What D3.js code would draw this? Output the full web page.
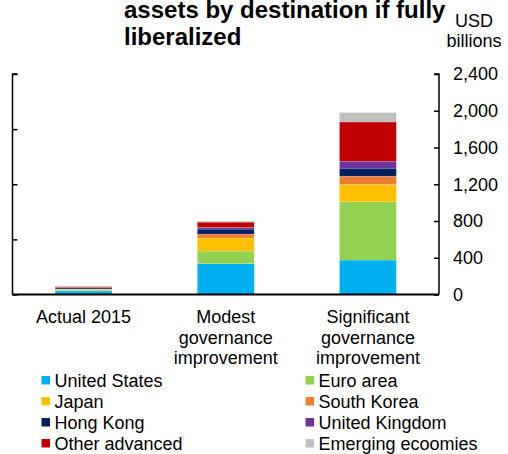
<!DOCTYPE html>
<html><head><meta charset="utf-8">
<script src="https://cdn.jsdelivr.net/npm/d3@7"></script>
<style>
html,body{margin:0;padding:0;background:#fff;}
svg{display:block;font-family:"Liberation Sans",Arial,sans-serif;}
</style></head>
<body><svg id="c" width="508" height="454"></svg>
<script>
const categories = ["Actual 2015", "Modest governance improvement", "Significant governance improvement"];
const categoryLines = [["Actual 2015"], ["Modest", "governance", "improvement"], ["Significant", "governance", "improvement"]];
const seriesNames = ["United States", "Euro area", "Japan", "South Korea", "Hong Kong", "United Kingdom", "Other advanced", "Emerging ecoomies"];
const seriesColors = ["#00B0F0", "#92D050", "#FFC000", "#ED7D31", "#002060", "#7030A0", "#C00000", "#BFBFBF"];
const unitedStates = [38, 335, 375];
const euroArea = [10, 138, 634];
const japan = [8, 141, 189];
const southKorea = [4, 44, 90];
const hongKong = [12, 54, 87];
const unitedKingdom = [4, 18, 76];
const otherAdvanced = [10, 58, 427];
const emerging = [6, 11, 102];
const yTicks = [0, 400, 800, 1200, 1600, 2000, 2400];
const titleLines = ["assets by destination if fully", "liberalized"];
const unitLines = ["USD", "billions"];

const seriesValues = [unitedStates, euroArea, japan, southKorea, hongKong, unitedKingdom, otherAdvanced, emerging];
const table = categories.map((c, i) => {
  const row = {cat: c};
  seriesNames.forEach((s, j) => row[s] = seriesValues[j][i]);
  return row;
});

const svg = d3.select("#c");
const pL = 12.5, pR = 439, pT = 74, pB = 294.5;

const x = d3.scaleBand().domain(categories).range([pL, pR]).paddingInner(0.6).paddingOuter(0.3);
const y = d3.scaleLinear().domain([0, 2400]).range([pB, pT]);
const yL = d3.scaleLinear().domain([0, 4]).range([pB, pT]);

const stack = d3.stack().keys(seriesNames)(table);
svg.append("g").selectAll("g").data(stack).join("g")
  .attr("fill", (d, i) => seriesColors[i])
  .selectAll("rect").data(d => d).join("rect")
  .attr("x", d => x(d.data.cat))
  .attr("width", x.bandwidth())
  .attr("y", d => y(d[1]))
  .attr("height", d => y(d[0]) - y(d[1]))
  .attr("stroke", "rgba(255,255,255,0.35)")
  .attr("stroke-width", 0.5);

// right axis
const ra = svg.append("g").attr("transform", `translate(${pR},0)`)
  .call(d3.axisLeft(y).tickValues(yTicks).tickSize(5).tickFormat(""));
ra.select(".domain").attr("stroke", "#000").attr("stroke-width", 1.5).attr("d", `M-5,${pT}H0V${pB}`);
ra.selectAll(".tick line").attr("stroke", "#000").attr("stroke-width", 1.5);
svg.append("g").selectAll("text").data(yTicks).join("text")
  .attr("x", 453).attr("y", d => y(d)).attr("dy", "0.36em")
  .attr("font-size", 18).attr("fill", "#000")
  .text(d => d3.format(",")(d));

// left axis
const la = svg.append("g").attr("transform", `translate(${pL},0)`)
  .call(d3.axisRight(yL).ticks(4).tickSize(5).tickFormat(""));
la.select(".domain").attr("stroke", "#000").attr("stroke-width", 1.5).attr("d", `M5,${pT}H0V${pB}`);
la.selectAll(".tick line").attr("stroke", "#000").attr("stroke-width", 1.5);

// baseline
svg.append("line").attr("x1", pL).attr("x2", pR).attr("y1", y(0)).attr("y2", y(0))
  .attr("stroke", "#000").attr("stroke-width", 1.8);

// category labels
categories.forEach((c, i) => {
  const t = svg.append("text").attr("text-anchor", "middle").attr("font-size", 18).attr("fill", "#000");
  categoryLines[i].forEach((l, k) => {
    t.append("tspan").attr("x", x(c) + x.bandwidth() / 2).attr("y", 323 + k * 20.5).text(l);
  });
});

// title
titleLines.forEach((l, k) => {
  svg.append("text").attr("x", 124).attr("y", 17.5 + k * 27)
    .attr("font-size", 24).attr("font-weight", "bold").attr("fill", "#000").text(l);
});
unitLines.forEach((l, k) => {
  svg.append("text").attr("x", 474).attr("y", 27 + k * 20).attr("text-anchor", "middle")
    .attr("font-size", 18).attr("fill", "#000").text(l);
});

// legend
const lg = svg.append("g");
seriesNames.forEach((s, i) => {
  const col = i % 2, row = Math.floor(i / 2);
  const gx = col === 0 ? 41.5 : 305.5;
  const gy = 376 + row * 21;
  lg.append("rect").attr("x", gx).attr("y", gy).attr("width", 8.5).attr("height", 8.5).attr("fill", seriesColors[i]);
  lg.append("text").attr("x", gx + 13).attr("y", gy + 10.5).attr("font-size", 18).attr("fill", "#000").text(s);
});
</script></body></html>
